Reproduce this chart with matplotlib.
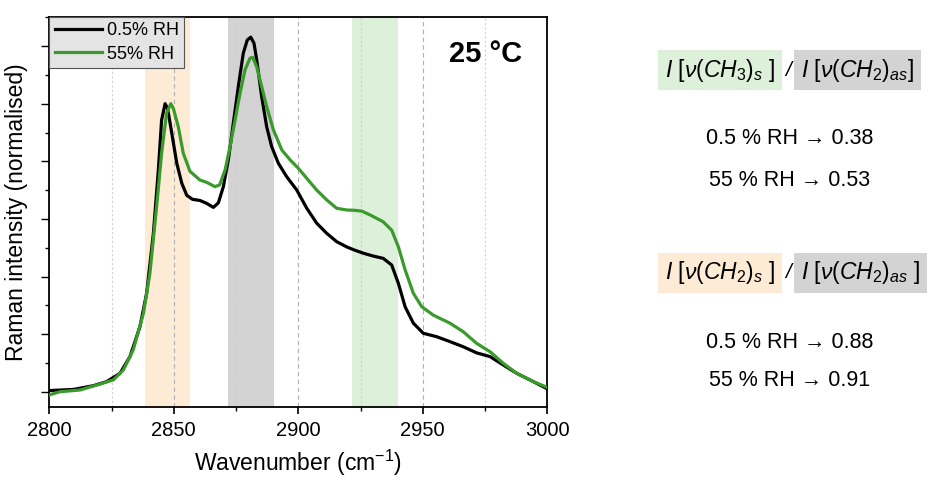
import matplotlib
matplotlib.use("Agg")
import matplotlib.pyplot as plt
from matplotlib.ticker import MultipleLocator

plt.rcParams['font.family'] = ['Liberation Sans', 'DejaVu Sans']
plt.rcParams['mathtext.fontset'] = 'custom'
plt.rcParams['mathtext.rm'] = 'Liberation Sans'
plt.rcParams['mathtext.it'] = 'Liberation Sans:italic'
plt.rcParams['mathtext.bf'] = 'Liberation Sans:bold'

# ---- data ----
wn_black = [2800.0, 2809.7, 2817.7, 2823.0, 2828.4, 2832.4, 2836.4, 2839.1, 2841.8, 2843.8,
            2845.1, 2846.5, 2847.5, 2849.2, 2851.2, 2853.2, 2855.2, 2857.5, 2860.5, 2863.2,
            2865.9, 2867.9, 2869.9, 2871.9, 2873.9, 2875.9, 2877.9, 2879.5, 2880.9, 2882.2,
            2883.3, 2885.3, 2887.3, 2889.3, 2892.0, 2895.3, 2899.4, 2903.4, 2907.4, 2911.4,
            2915.4, 2919.4, 2922.5, 2926.1, 2930.1, 2934.1, 2937.5, 2940.2, 2942.9, 2946.2,
            2950.2, 2955.6, 2960.9, 2966.3, 2971.6, 2977.0, 2982.3, 2987.7, 2994.4, 3000.0]
int_black = [0.004, 0.008, 0.021, 0.035, 0.064, 0.122, 0.226, 0.342, 0.55, 0.77,
             0.943, 1.0, 0.984, 0.897, 0.793, 0.724, 0.682, 0.668, 0.664, 0.654,
             0.64, 0.656, 0.712, 0.805, 0.932, 1.059, 1.175, 1.221, 1.231, 1.21,
             1.152, 1.024, 0.92, 0.851, 0.793, 0.747, 0.70, 0.637, 0.585, 0.55,
             0.521, 0.503, 0.492, 0.481, 0.471, 0.463, 0.44, 0.376, 0.295, 0.238,
             0.203, 0.191, 0.174, 0.156, 0.135, 0.122, 0.093, 0.064, 0.035, 0.01]

wn_green = [2800.0, 2804.3, 2812.3, 2819.0, 2825.7, 2829.7, 2833.7, 2837.8, 2840.4, 2843.1,
            2845.1, 2847.1, 2848.8, 2849.8, 2851.8, 2853.8, 2856.5, 2860.5, 2863.2, 2866.5,
            2868.4, 2870.6, 2872.6, 2874.6, 2876.6, 2878.6, 2880.6, 2881.7, 2883.3, 2885.3,
            2887.3, 2890.0, 2893.4, 2896.7, 2900.0, 2903.4, 2907.4, 2911.4, 2915.4, 2919.4,
            2922.5, 2925.5, 2928.8, 2934.1, 2937.5, 2940.2, 2942.9, 2946.2, 2949.6, 2954.2,
            2960.9, 2966.3, 2971.6, 2977.0, 2982.3, 2987.7, 2994.4, 3000.0]
int_green = [-0.011, 0.0, 0.006, 0.023, 0.041, 0.075, 0.145, 0.272, 0.411, 0.642,
             0.828, 0.967, 1.0, 0.984, 0.92, 0.828, 0.765, 0.735, 0.727, 0.712,
             0.718, 0.77, 0.851, 0.943, 1.036, 1.117, 1.158, 1.161, 1.128, 1.059,
             0.99, 0.909, 0.839, 0.805, 0.776, 0.741, 0.70, 0.666, 0.637, 0.631,
             0.63, 0.627, 0.614, 0.59, 0.561, 0.503, 0.423, 0.342, 0.295, 0.266,
             0.238, 0.208, 0.168, 0.139, 0.099, 0.064, 0.035, 0.015]

labels = ['0.5% RH', '55% RH']
bands = [(2838.4, 2856.5), (2871.9, 2890.2), (2921.6, 2940.0)]
band_colors = ['#fdebd5', '#d3d3d3', '#ddf0da']
xticks = [2800, 2850, 2900, 2950, 3000]
temp_label = '25 °C'
ratio_titles = [(r'$\mathit{I\ [\nu(CH_3)_s\ ]}$', r'$\mathit{I\ [\nu(CH_2)_{as}]}$'),
                (r'$\mathit{I\ [\nu(CH_2)_s\ ]}$', r'$\mathit{I\ [\nu(CH_2)_{as}\ ]}$')]
ratio_lines = [['0.5 % RH → 0.38', '55 % RH → 0.53'],
               ['0.5 % RH → 0.88', '55 % RH → 0.91']]

# ---- figure ----
W, H = 928, 478
fig = plt.figure(figsize=(W/100, H/100), dpi=100)
ax = fig.add_axes([49.3/W, 1-407/H, (547.3-49.3)/W, (407-17)/H])

for (a, b), c in zip(bands, band_colors):
    ax.axvspan(a, b, color=c, lw=0, zorder=0)

for x in [2850, 2900, 2950]:
    ax.axvline(x, color='#b0b0b0', lw=0.8, ls=(0, (4, 3)), zorder=0.5)
for x in [2825, 2875, 2925, 2975]:
    ax.axvline(x, color='#d0d0d0', lw=0.8, ls=(0, (2, 2)), zorder=0.5)

ax.plot(wn_black, int_black, color='black', lw=2.3, label=labels[0], zorder=3)
ax.plot(wn_green, int_green, color='#3a9a2c', lw=2.3, label=labels[1], zorder=4)

ax.set_xlim(2800, 3000)
ax.set_ylim(-0.053, 1.301)
ax.set_xticks(xticks)
ax.xaxis.set_minor_locator(MultipleLocator(25))
ax.yaxis.set_major_locator(MultipleLocator(0.2))
ax.yaxis.set_minor_locator(MultipleLocator(0.1))
ax.set_yticklabels([])
ax.tick_params(axis='x', which='major', direction='out', length=5, width=1.2, labelsize=14.5, pad=5)
ax.tick_params(axis='x', which='minor', direction='out', length=3, width=1.0)
ax.tick_params(axis='y', which='major', direction='out', length=6, width=1.0)
ax.tick_params(axis='y', which='minor', direction='out', length=3, width=1.0)
for s in ax.spines.values():
    s.set_linewidth(1.3)

ax.set_xlabel('Wavenumber (cm$^{-1}$)', fontsize=16.5, labelpad=6)
ax.set_ylabel('Raman intensity (normalised)', fontsize=16.5, labelpad=6)

leg = ax.legend(loc='upper left', bbox_to_anchor=(0, 1), fontsize=13, frameon=True,
                fancybox=False, borderaxespad=0, handlelength=2.6, handletextpad=0.3,
                borderpad=0.3, labelspacing=0.35)
leg.get_frame().set_facecolor('#e4e4e4')
leg.get_frame().set_edgecolor('#555555')
leg.get_frame().set_alpha(1)
leg.get_frame().set_linewidth(0.8)
leg.set_zorder(6)

ax.text(0.95, 0.905, temp_label, transform=ax.transAxes, ha='right', va='center',
        fontsize=21, fontweight='bold')

# ---- right-hand annotations ----
title_y = [1-70/H, 1-273/H]
line_y = [[1-139/H, 1-180/H], [1-342/H, 1-381/H]]
left_colors = ['#ddf0da', '#fdebd5']
for i in range(2):
    l, r = ratio_titles[i]
    fig.text(775/W, title_y[i], l, ha='right', va='center', fontsize=16.5,
             bbox=dict(boxstyle='square,pad=0.3', fc=left_colors[i], ec='none'))
    fig.text(788/W, title_y[i], '/', ha='center', va='center', fontsize=15, style='italic')
    fig.text(801/W, title_y[i], r, ha='left', va='center', fontsize=16.5,
             bbox=dict(boxstyle='square,pad=0.3', fc='#d3d3d3', ec='none'))
    for j in range(2):
        fig.text(790/W, line_y[i][j], ratio_lines[i][j], ha='center', va='center', fontsize=15.5)

fig.savefig('out.png', dpi=100)
